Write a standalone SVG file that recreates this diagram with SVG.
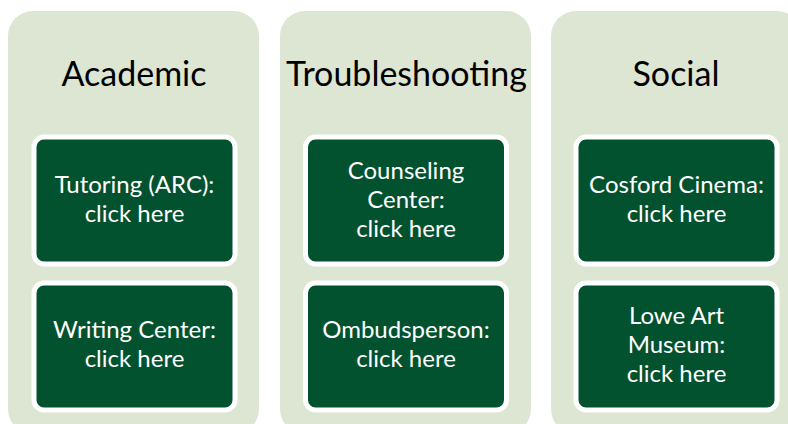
<svg xmlns="http://www.w3.org/2000/svg" width="788" height="424" viewBox="0 0 788 424">
<style>
.col{fill:#DDE6D2}
.box{fill:#02512F;stroke:#FFFFFF;stroke-width:5}
.title{font-family:Lato,"Open Sans",sans-serif;font-size:34px;fill:#000000;text-anchor:middle}
.lbl{font-family:Lato,"Open Sans",sans-serif;font-size:24px;fill:#FFFFFF;text-anchor:middle}
</style>
<rect width="788" height="424" fill="#FFFFFF"/>
<g id="academic">
<rect class="col" x="8" y="11" width="251" height="423" rx="25"/>
<text class="title" x="134" y="86">Academic</text>
</g>
<g id="troubleshooting">
<rect class="col" x="280" y="11" width="251" height="423" rx="25"/>
<text class="title" x="406.5" y="86">Troubleshooting</text>
</g>
<g id="social">
<rect class="col" x="551" y="11" width="251" height="423" rx="25"/>
<text class="title" x="676" y="86">Social</text>
</g>
<g id="tutoring">
<rect class="box" x="34" y="137" width="201" height="127" rx="10"/>
<text class="lbl" x="134.5" y="193">Tutoring (ARC):</text>
<text class="lbl" x="134.5" y="222">click here</text>
</g>
<g id="writing">
<rect class="box" x="34" y="283" width="201" height="127" rx="10"/>
<text class="lbl" x="134.5" y="338">Writing Center:</text>
<text class="lbl" x="134.5" y="367">click here</text>
</g>
<g id="counseling">
<rect class="box" x="305.5" y="137" width="201" height="127" rx="10"/>
<text class="lbl" x="406" y="179">Counseling</text>
<text class="lbl" x="406" y="208">Center:</text>
<text class="lbl" x="406" y="237">click here</text>
</g>
<g id="ombudsperson">
<rect class="box" x="305.5" y="283" width="201" height="127" rx="10"/>
<text class="lbl" x="406" y="338">Ombudsperson:</text>
<text class="lbl" x="406" y="367">click here</text>
</g>
<g id="cosford">
<rect class="box" x="576" y="137" width="201" height="127" rx="10"/>
<text class="lbl" x="676.5" y="193">Cosford Cinema:</text>
<text class="lbl" x="676.5" y="222">click here</text>
</g>
<g id="lowe">
<rect class="box" x="576" y="283" width="201" height="127" rx="10"/>
<text class="lbl" x="676.5" y="324">Lowe Art</text>
<text class="lbl" x="676.5" y="353">Museum:</text>
<text class="lbl" x="676.5" y="382">click here</text>
</g>
<g id="connectors"/>
</svg>
